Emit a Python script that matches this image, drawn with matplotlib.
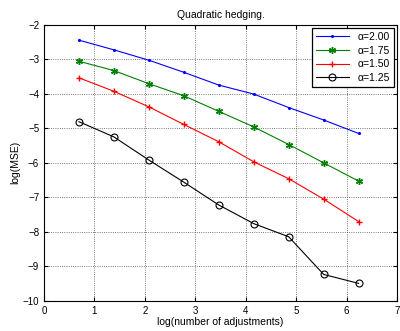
import numpy as np
import matplotlib
matplotlib.use('Agg')
import matplotlib.pyplot as plt

plt.rcParams['font.family'] = ['Liberation Sans', 'DejaVu Sans']

# log(number of adjustments): 2, 4, ..., 512
n_adj = [2, 4, 8, 16, 32, 64, 128, 256, 512]
mse_a200 = [-2.45, -2.73, -3.03, -3.38, -3.75, -4.01, -4.40, -4.76, -5.15]
mse_a175 = [-3.06, -3.33, -3.71, -4.06, -4.51, -4.96, -5.47, -6.00, -6.53]
mse_a150 = [-3.54, -3.93, -4.38, -4.89, -5.39, -5.97, -6.46, -7.05, -7.70]
mse_a125 = [-4.81, -5.25, -5.92, -6.56, -7.22, -7.76, -8.14, -9.23, -9.49]

x = np.log(n_adj)

fig = plt.figure(figsize=(4, 3.31), dpi=100)
ax = fig.add_axes([0.11, 0.0906, 0.8825, 0.835])

ax.plot(x, mse_a200, color='b', marker='.', markersize=2.5, lw=0.8, label='α=2.00')
ax.plot(x, mse_a175, color='g', marker=(6, 2, 0), markersize=5, mew=1.0, lw=0.8, label='α=1.75')
ax.plot(x, mse_a150, color='r', marker='+', markersize=5, mew=1.0, lw=0.8, label='α=1.50')
ax.plot(x, mse_a125, color='k', marker='o', markersize=5, mfc='none', mew=0.8, lw=0.8, label='α=1.25')

ax.set_xlim(0, 7)
ax.set_ylim(-10, -2)
ax.set_xticks(range(0, 8))
ax.set_yticks(range(-10, -1))
ax.grid(True, linestyle=':', color='0.3', lw=0.6)
ax.tick_params(direction='in', labelsize=7, top=True, right=True, length=3)
for s in ax.spines.values():
    s.set_linewidth(0.8)

ax.set_title('Quadratic hedging.', fontsize=7.5, pad=5)
ax.set_xlabel('log(number of adjustments)', fontsize=7.5, labelpad=1)
ax.set_ylabel('log(MSE)', fontsize=7.5, labelpad=2)

leg = ax.legend(loc='upper right', fontsize=7.5, fancybox=False, framealpha=1,
                edgecolor='k', borderaxespad=0.3, handlelength=3.2, labelspacing=0.35)
leg.get_frame().set_linewidth(0.9)

fig.savefig('out.png', dpi=100)
